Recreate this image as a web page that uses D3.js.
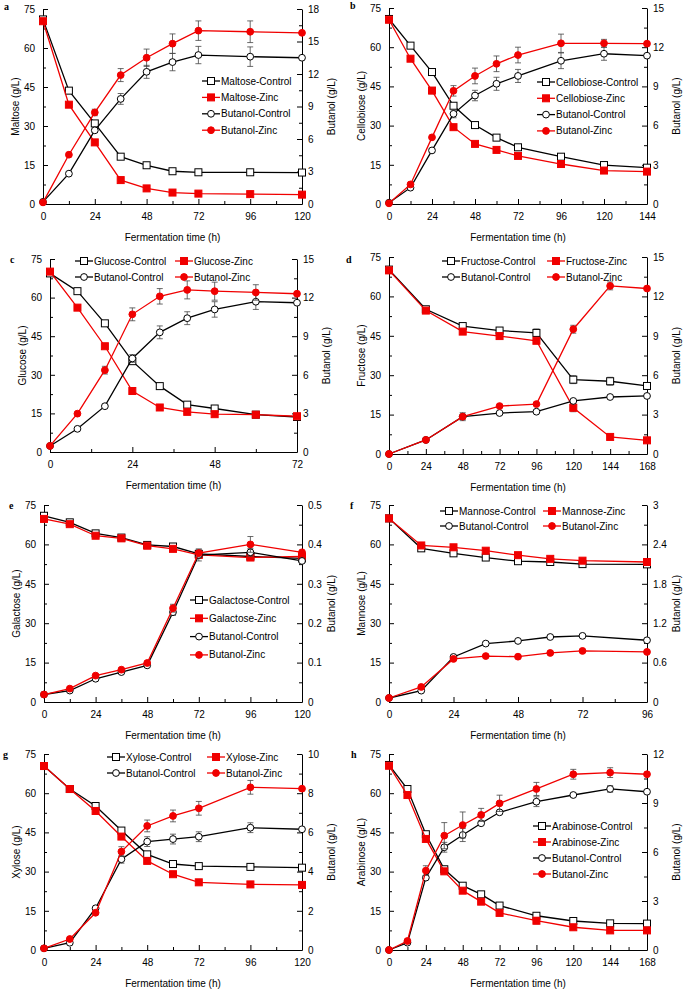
<!DOCTYPE html>
<html>
<head>
<meta charset="utf-8">
<script src="https://cdn.jsdelivr.net/npm/d3@7"></script>
<style>
  body { margin: 0; background: #fff; }
  svg { font-family: "Liberation Sans", Arial, sans-serif; }
</style>
</head>
<body>
<script>
// ---- data ----
// a: maltose
const timeA = [0, 12, 24, 36, 48, 60, 72, 96, 120];
const maltoseControl = [71, 43.6, 31, 18.2, 14.9, 12.6, 12.2, 12.2, 12.1];
const maltoseZinc = [70.3, 38.2, 23.7, 9.2, 6.0, 4.4, 4.0, 3.8, 3.6];
const butanolControlA = [0.2, 2.8, 6.8, 9.7, 12.2, 13.1, 13.75, 13.6, 13.5];
const butanolZincA = [0.15, 4.55, 8.45, 11.9, 13.5, 14.8, 16.0, 15.9, 15.8];
const errSugarZincA = [0, 0, 1, 0, 0, 0, 0, 0, 0];
const errButanolControlA = [0, 0, 0.2, 0.5, 0.6, 0.8, 0.8, 0.9, 0];
const errButanolZincA = [0, 0, 0.3, 0.6, 0.8, 0.9, 0.9, 1.0, 0];

// b: cellobiose
const timeB = [0, 12, 24, 36, 48, 60, 72, 96, 120, 144];
const cellobioseControl = [70.8, 60.6, 50.5, 37.6, 30.2, 25.4, 21.7, 18.1, 14.9, 13.9];
const cellobioseZinc = [70.5, 55.6, 43.4, 29.4, 23.0, 20.7, 18.4, 15.3, 12.8, 12.4];
const butanolControlB = [0.1, 1.25, 4.1, 6.9, 8.3, 9.2, 9.8, 10.96, 11.5, 11.35];
const butanolZincB = [0.05, 1.5, 5.1, 8.66, 9.8, 10.73, 11.4, 12.3, 12.3, 12.27];
const errSugarZincB = [0, 0, 1.2, 0, 0, 0, 0, 0, 0, 0];
const errButanolControlB = [0, 0, 0, 0.3, 0.4, 0.5, 0.5, 0.6, 0.5, 0];
const errButanolZincB = [0, 0, 0, 0.4, 0.6, 0.6, 0.6, 0.7, 0.3, 0];

// c: glucose
const timeC = [0, 8, 16, 24, 32, 40, 48, 60, 72];
const glucoseControl = [69.4, 62.5, 50.0, 35.3, 25.6, 18.4, 16.9, 14.5, 13.6];
const glucoseZinc = [70.1, 56.1, 41.1, 23.7, 17.3, 15.6, 14.7, 14.5, 13.9];
const butanolControlC = [0.47, 1.8, 3.56, 7.27, 9.3, 10.4, 11.08, 11.68, 11.6];
const butanolZincC = [0.47, 2.98, 6.36, 10.7, 12.1, 12.6, 12.5, 12.4, 12.3];
const errButanolControlC = [0, 0, 0, 0.3, 0.5, 0.5, 0.6, 0.6, 0];
const errButanolZincC = [0, 0, 0.3, 0.5, 0.6, 0.7, 0.7, 0.6, 0];

// d: fructose
const timeD = [0, 24, 48, 72, 96, 120, 144, 168];
const fructoseControl = [70.2, 55.1, 48.7, 47.0, 46.1, 28.3, 27.7, 25.9];
const fructoseZinc = [69.9, 54.6, 46.6, 44.9, 43.1, 17.6, 6.5, 5.2];
const butanolControlD = [0, 1.07, 2.84, 3.12, 3.22, 4.04, 4.34, 4.42];
const butanolZincD = [0, 1.07, 2.84, 3.65, 3.8, 9.5, 12.8, 12.6];
const errSugarControlD = [0, 0, 0, 0, 1.5, 1.5, 1.5, 0];
const errSugarZincD = [0, 0, 0, 0, 0, 1.5, 0, 0];
const errButanolZincD = [0, 0, 0.3, 0, 0, 0.3, 0.3, 0];

// e: galactose
const timeE = [0, 12, 24, 36, 48, 60, 72, 96, 120];
const galactoseControl = [70.9, 68.4, 64.2, 62.6, 59.8, 59.2, 56.4, 55.4, 54.7];
const galactoseZinc = [69.7, 67.7, 63.3, 62.3, 59.5, 58.3, 56.0, 55.0, 55.4];
const butanolControlE = [0.019, 0.029, 0.059, 0.076, 0.093, 0.228, 0.373, 0.38, 0.358];
const butanolZincE = [0.019, 0.034, 0.067, 0.082, 0.099, 0.238, 0.378, 0.40, 0.38];
const errButanolControlE = [0, 0, 0, 0, 0, 0.008, 0.015, 0.01, 0];
const errButanolZincE = [0, 0, 0, 0, 0, 0.01, 0.01, 0.02, 0];

// f: mannose
const timeF = [0, 12, 24, 36, 48, 60, 72, 96];
const mannoseControl = [69.9, 58.5, 56.6, 55.0, 53.6, 53.3, 52.5, 52.4];
const mannoseZinc = [69.9, 59.6, 58.9, 57.6, 55.9, 54.5, 53.8, 53.3];
const butanolControlF = [0.061, 0.173, 0.686, 0.89, 0.93, 0.99, 1.007, 0.94];
const butanolZincF = [0.061, 0.229, 0.656, 0.70, 0.69, 0.747, 0.778, 0.763];
const errSugarControlF = [0, 1, 0, 0, 0, 0, 0, 0];

// g: xylose
const timeG = [0, 12, 24, 36, 48, 60, 72, 96, 120];
const xyloseControl = [70.4, 61.6, 55.1, 45.7, 36.6, 32.9, 32.1, 31.8, 31.5];
const xyloseZinc = [70.4, 61.6, 53.2, 43.4, 34.1, 29.0, 25.9, 25.1, 24.9];
const butanolControlG = [0.085, 0.37, 2.13, 4.63, 5.53, 5.66, 5.78, 6.24, 6.16];
const butanolZincG = [0.085, 0.56, 1.9, 5.02, 6.33, 6.84, 7.23, 8.3, 8.23];
const errButanolControlG = [0, 0, 0, 0.2, 0.25, 0.25, 0.25, 0.25, 0];
const errButanolZincG = [0, 0, 0, 0.25, 0.3, 0.3, 0.35, 0.35, 0];

// h: arabinose
const timeH = [0, 12, 24, 36, 48, 60, 72, 96, 120, 144, 168];
const arabinoseControl = [70.8, 61.6, 44.3, 30.9, 24.6, 21.3, 17.0, 13.1, 11.1, 10.2, 10.1];
const arabinoseZinc = [70.5, 59.3, 42.5, 30.1, 22.7, 18.5, 14.2, 11.2, 8.7, 7.5, 7.5];
const butanolControlH = [0, 0.45, 4.43, 6.29, 7.04, 7.76, 8.43, 9.08, 9.49, 9.86, 9.69];
const butanolZincH = [0, 0.55, 4.86, 7.0, 7.65, 8.27, 8.98, 9.86, 10.76, 10.86, 10.76];
const errSugarZincH = [0, 0, 0, 0, 0, 0, 1, 1.2, 0, 0, 0];
const errButanolControlH = [0, 0, 0, 0.3, 0.4, 0, 0, 0.3, 0, 0.2, 0];
const errButanolZincH = [0, 0, 0.3, 0.8, 0.8, 0.4, 0.5, 0.4, 0.3, 0.3, 0];

// ---- layout ----
const RED = "#f00000";
const svgWidth = 685, svgHeight = 992;
const svg = d3.select("body").append("svg").attr("width", svgWidth).attr("height", svgHeight);

const panels = [
  { letter: "a", lx: 4, ly: 10, sugar: "Maltose", t: timeA, sc: maltoseControl, sz: maltoseZinc, bc: butanolControlA, bz: butanolZincA,
    esz: errSugarZincA, ebc: errButanolControlA, ebz: errButanolZincA,
    xMax: 120, rMax: 18, rStep: 3, L: 43, R: 302, T: 9, B: 204,
    legend: { type: "v", x: 202, y: 81, dy: 16.4 } },
  { letter: "b", lx: 350, ly: 9, sugar: "Cellobiose", t: timeB, sc: cellobioseControl, sz: cellobioseZinc, bc: butanolControlB, bz: butanolZincB,
    esz: errSugarZincB, ebc: errButanolControlB, ebz: errButanolZincB,
    xMax: 144, rMax: 15, rStep: 3, L: 389, R: 647, T: 8, B: 204,
    legend: { type: "v", x: 537, y: 82, dy: 16.3 } },
  { letter: "c", lx: 10, ly: 263, sugar: "Glucose", t: timeC, sc: glucoseControl, sz: glucoseZinc, bc: butanolControlC, bz: butanolZincC,
    ebc: errButanolControlC, ebz: errButanolZincC,
    xMax: 72, rMax: 15, rStep: 3, L: 50, R: 297, T: 259, B: 452,
    legend: { type: "grid", x: [75, 175], y: [261, 277] } },
  { letter: "d", lx: 346, ly: 263, sugar: "Fructose", t: timeD, sc: fructoseControl, sz: fructoseZinc, bc: butanolControlD, bz: butanolZincD,
    esc: errSugarControlD, esz: errSugarZincD, ebz: errButanolZincD,
    xMax: 168, rMax: 15, rStep: 3, L: 389, R: 647, T: 257, B: 454,
    legend: { type: "grid", x: [442, 547], y: [261, 277] } },
  { letter: "e", lx: 9, ly: 509, sugar: "Galactose", t: timeE, sc: galactoseControl, sz: galactoseZinc, bc: butanolControlE, bz: butanolZincE,
    ebc: errButanolControlE, ebz: errButanolZincE,
    xMax: 120, rMax: 0.5, rStep: 0.1, L: 44, R: 302, T: 505, B: 702,
    legend: { type: "v", x: 190, y: 600, dy: 18.3 } },
  { letter: "f", lx: 350, ly: 509, sugar: "Mannose", t: timeF, sc: mannoseControl, sz: mannoseZinc, bc: butanolControlF, bz: butanolZincF,
    esc: errSugarControlF,
    xMax: 96, rMax: 3, rStep: 0.6, L: 389, R: 647, T: 505, B: 702,
    legend: { type: "grid", x: [440, 543], y: [511, 526] } },
  { letter: "g", lx: 3, ly: 758, sugar: "Xylose", t: timeG, sc: xyloseControl, sz: xyloseZinc, bc: butanolControlG, bz: butanolZincG,
    ebc: errButanolControlG, ebz: errButanolZincG,
    xMax: 120, rMax: 10, rStep: 2, L: 44, R: 302, T: 754, B: 950,
    legend: { type: "grid", x: [107, 207], y: [757, 773] } },
  { letter: "h", lx: 351, ly: 758, sugar: "Arabinose", t: timeH, sc: arabinoseControl, sz: arabinoseZinc, bc: butanolControlH, bz: butanolZincH,
    esz: errSugarZincH, ebc: errButanolControlH, ebz: errButanolZincH,
    xMax: 168, rMax: 12, rStep: 3, L: 389, R: 647, T: 754, B: 950,
    legend: { type: "v", x: 533, y: 826, dy: 16 } }
];

const fmt = v => String(+v.toFixed(2));

function styleAxis(sel) {
  sel.attr("font-family", null).attr("font-size", null);
  sel.selectAll("text").style("font-size", "10px").attr("fill", "#000");
  sel.selectAll("line, path").attr("stroke", "#000");
}

// marker drawing helper
function marker(g, shape, filled, color, cx, cy) {
  if (shape === "square") {
    g.append("rect").attr("x", cx - 3.5).attr("y", cy - 3.5).attr("width", 7).attr("height", 7)
      .attr("fill", filled ? color : "#fff").attr("stroke", color).attr("stroke-width", 1);
  } else {
    g.append("circle").attr("cx", cx).attr("cy", cy).attr("r", 3.4)
      .attr("fill", filled ? color : "#fff").attr("stroke", color).attr("stroke-width", 1);
  }
}

function drawPanel(p) {
  const x = d3.scaleLinear().domain([0, p.xMax]).range([p.L, p.R]);
  const yL = d3.scaleLinear().domain([0, 75]).range([p.B, p.T]);
  const yR = d3.scaleLinear().domain([0, p.rMax]).range([p.B, p.T]);
  const g = svg.append("g");

  // x axis (major every 24 h, minor every 12 h)
  const xMajor = d3.range(0, p.xMax + 1, 24);
  const xMinor = d3.range(12, p.xMax, 24);
  g.append("g").attr("transform", `translate(0,${p.B})`)
    .call(d3.axisBottom(x).tickValues(xMajor).tickSizeInner(-5).tickSizeOuter(0).tickPadding(9).tickFormat(d3.format("d")))
    .call(styleAxis);
  g.append("g").attr("transform", `translate(0,${p.B})`)
    .call(d3.axisBottom(x).tickValues(xMinor).tickSizeInner(-3).tickSizeOuter(0).tickFormat(""))
    .call(s => s.select(".domain").remove()).call(styleAxis);

  // left axis
  const lMajor = d3.range(0, 76, 15);
  const lMinor = d3.range(7.5, 75, 15);
  g.append("g").attr("transform", `translate(${p.L},0)`)
    .call(d3.axisLeft(yL).tickValues(lMajor).tickSizeInner(-5).tickSizeOuter(0).tickPadding(8))
    .call(styleAxis);
  g.append("g").attr("transform", `translate(${p.L},0)`)
    .call(d3.axisLeft(yL).tickValues(lMinor).tickSizeInner(-3).tickSizeOuter(0).tickFormat(""))
    .call(s => s.select(".domain").remove()).call(styleAxis);

  // right axis
  const n = Math.round(p.rMax / p.rStep);
  const rMajor = d3.range(0, n + 1).map(i => i * p.rStep);
  const rMinor = d3.range(0, n).map(i => (i + 0.5) * p.rStep);
  g.append("g").attr("transform", `translate(${p.R},0)`)
    .call(d3.axisRight(yR).tickValues(rMajor).tickSizeInner(-5).tickSizeOuter(0).tickPadding(6).tickFormat(fmt))
    .call(styleAxis);
  g.append("g").attr("transform", `translate(${p.R},0)`)
    .call(d3.axisRight(yR).tickValues(rMinor).tickSizeInner(-3).tickSizeOuter(0).tickFormat(""))
    .call(s => s.select(".domain").remove()).call(styleAxis);

  // axis titles
  g.append("text").attr("x", (p.L + p.R) / 2).attr("y", p.B + 37)
    .attr("text-anchor", "middle").style("font-size", "10px").text("Fermentation time (h)");
  g.append("text").attr("transform", `translate(${p.L - 24},${(p.T + p.B) / 2}) rotate(-90)`)
    .attr("text-anchor", "middle").style("font-size", "10px").text(`${p.sugar} (g/L)`);
  g.append("text").attr("transform", `translate(${p.R + 33},${(p.T + p.B) / 2}) rotate(-90)`)
    .attr("text-anchor", "middle").style("font-size", "10px").text("Butanol (g/L)");

  // panel letter
  svg.append("text").attr("x", p.lx).attr("y", p.ly)
    .style("font-family", "'Liberation Serif', 'Times New Roman', serif")
    .style("font-weight", "bold").style("font-size", "10px").text(p.letter);

  const series = [
    { name: `${p.sugar}-Control`, vals: p.sc, err: p.esc, y: yL, shape: "square", filled: false, color: "#000" },
    { name: `${p.sugar}-Zinc`, vals: p.sz, err: p.esz, y: yL, shape: "square", filled: true, color: RED },
    { name: "Butanol-Control", vals: p.bc, err: p.ebc, y: yR, shape: "circle", filled: false, color: "#000" },
    { name: "Butanol-Zinc", vals: p.bz, err: p.ebz, y: yR, shape: "circle", filled: true, color: RED }
  ];

  series.forEach(s => {
    const sg = g.append("g");
    const pts = p.t.map((t, i) => [t, s.vals[i], s.err ? s.err[i] : 0]);
    // error bars
    pts.filter(d => d[2] > 0).forEach(d => {
      const cx = x(d[0]), y1 = s.y(d[1] - d[2]), y2 = s.y(d[1] + d[2]);
      sg.append("line").attr("x1", cx).attr("x2", cx).attr("y1", y1).attr("y2", y2).attr("stroke", "#444").attr("stroke-width", 0.8);
      [y1, y2].forEach(yy => sg.append("line").attr("x1", cx - 3).attr("x2", cx + 3).attr("y1", yy).attr("y2", yy)
        .attr("stroke", "#444").attr("stroke-width", 0.8));
    });
    sg.append("path").datum(pts)
      .attr("d", d3.line().x(d => x(d[0])).y(d => s.y(d[1])))
      .attr("fill", "none").attr("stroke", s.color).attr("stroke-width", 1.3);
    pts.forEach(d => marker(sg, s.shape, s.filled, s.color, x(d[0]), s.y(d[1])));
  });

  // legend
  const lg = g.append("g");
  series.forEach((s, i) => {
    let lx, ly;
    if (p.legend.type === "v") { lx = p.legend.x; ly = p.legend.y + i * p.legend.dy; }
    else { lx = p.legend.x[i % 2]; ly = p.legend.y[Math.floor(i / 2)]; }
    lg.append("line").attr("x1", lx).attr("x2", lx + 18).attr("y1", ly).attr("y2", ly)
      .attr("stroke", s.color).attr("stroke-width", 1.3);
    marker(lg, s.shape, s.filled, s.color, lx + 9, ly);
    lg.append("text").attr("x", lx + 19).attr("y", ly).attr("dy", "0.35em")
      .style("font-size", "10px").text(s.name);
  });
}

panels.forEach(drawPanel);
</script>
</body>
</html>
